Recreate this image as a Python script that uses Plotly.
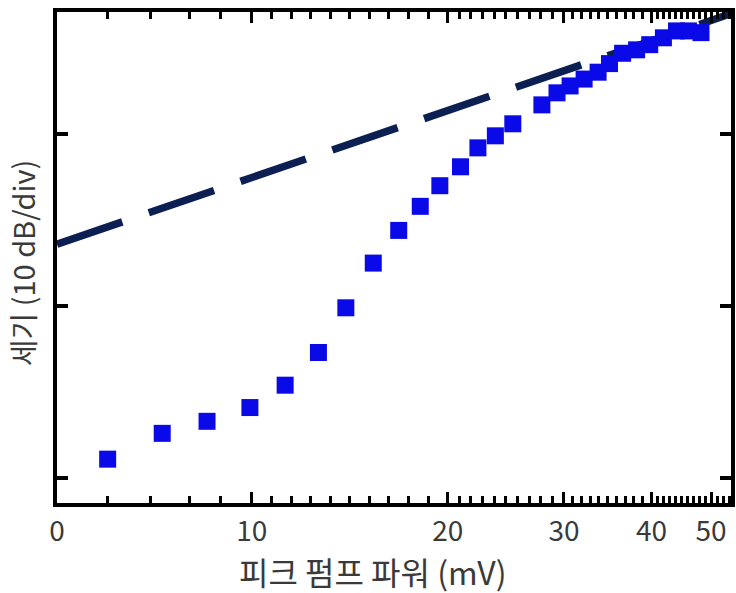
import numpy as np
import plotly.graph_objects as go

# ---- data ----
pump_mv = [2.6, 5.4, 7.7, 9.9, 11.7, 13.4, 14.8, 16.2, 17.5, 18.6, 19.6, 21.1, 22.6,
           24.1, 25.6, 28.1, 29.4, 30.7, 32.3, 33.9, 35.2, 36.7, 38.3, 39.8, 42.0,
           44.2, 46.2, 48.3]
intensity_db = [-38.9, -37.4, -36.7, -35.9, -34.6, -32.7, -30.1, -27.5, -25.6, -24.2,
                -23.0, -21.9, -20.8, -20.1, -19.4, -18.3, -17.6, -17.2, -16.8, -16.4,
                -15.9, -15.3, -15.1, -14.8, -14.4, -14.0, -14.0, -14.1]
line_mv = [0.0, 53.3]
line_db = [-26.4, -13.0]

tick_mv = [0, 10, 20, 30, 40, 50]
tick_labels = ["0", "10", "20", "30", "40", "50"]
minor_mv = [2.6, 4.8, 6.8, 8.4] + list(range(11, 20)) + list(range(21, 30)) + \
           list(range(31, 40)) + list(range(41, 50)) + [51, 52, 53]
y_ticks = [-40, -30, -20]

# ---- axis scale (non-uniform x axis of the original figure) ----
SCALE_MV = [0, 10, 20, 30, 40, 50]
SCALE_POS = [0, 196, 393, 510, 598, 658]


def warp(v):
    v = np.asarray(v, dtype=float)
    out = np.interp(v, SCALE_MV, SCALE_POS)
    slope = (SCALE_POS[-1] - SCALE_POS[-2]) / (SCALE_MV[-1] - SCALE_MV[-2])
    out = np.where(v > SCALE_MV[-1], SCALE_POS[-1] + (v - SCALE_MV[-1]) * slope, out)
    return out


FONT = "Noto Sans CJK KR"
TXT = "#3a3a3a"

fig = go.Figure()
fig.add_trace(go.Scatter(
    x=warp(line_mv), y=line_db, mode="lines",
    line=dict(color="#0b1f52", width=7.5, dash="69px,28px"),
    hoverinfo="skip"))
fig.add_trace(go.Scatter(
    x=warp(pump_mv), y=intensity_db, mode="markers",
    marker=dict(symbol="square", size=17, color="#0a0ae8", line=dict(width=0))))

fig.update_layout(
    width=736, height=593,
    margin=dict(l=57, r=1, t=12, b=90),
    plot_bgcolor="white", paper_bgcolor="white",
    showlegend=False,
    font=dict(family=FONT, color=TXT),
)
fig.update_xaxes(
    range=[0, 678], showgrid=False, zeroline=False,
    showline=True, linecolor="black", linewidth=4, mirror="allticks",
    ticks="inside", ticklen=11, tickwidth=3, tickcolor="black",
    tickmode="array", tickvals=warp(tick_mv), ticktext=tick_labels,
    tickfont=dict(size=28, color=TXT, family=FONT),
    minor=dict(tickmode="array", tickvals=warp(minor_mv), ticks="inside",
               ticklen=7, tickwidth=2.5, tickcolor="black", showgrid=False),
)
fig.update_yaxes(
    range=[-41.45, -12.9], showgrid=False, zeroline=False,
    showline=True, linecolor="black", linewidth=4, mirror="allticks",
    ticks="inside", ticklen=11, tickwidth=4, tickcolor="black",
    tickmode="array", tickvals=y_ticks, showticklabels=False,
)
fig.add_annotation(
    text="피크 펌프 파워 (mV)", xref="paper", yref="paper",
    x=(374 - 57) / 678, y=(503 - 571) / 491, xanchor="center", yanchor="middle",
    showarrow=False, font=dict(size=32, color=TXT, family=FONT))
fig.add_annotation(
    text="세기 (10 dB/div)", xref="paper", yref="paper",
    x=(22 - 57) / 678, y=(503 - 263) / 491, xanchor="center", yanchor="middle",
    textangle=-90, showarrow=False, font=dict(size=29, color=TXT, family=FONT))

fig.write_html("out.html")
